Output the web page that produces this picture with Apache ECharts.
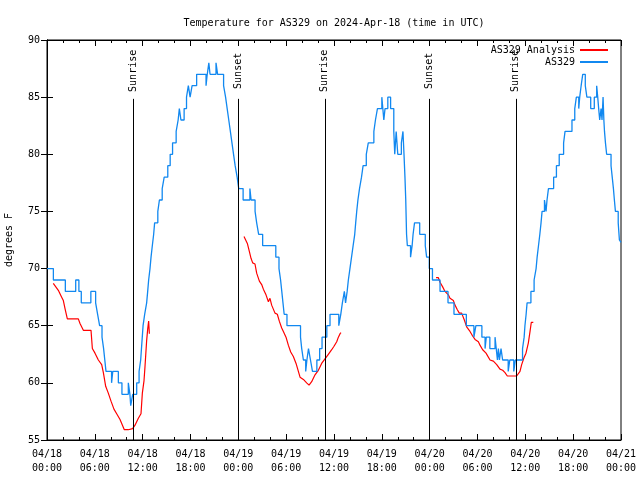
<!DOCTYPE html>
<html><head><meta charset="utf-8">
<script src="https://cdn.jsdelivr.net/npm/echarts@6/dist/echarts.min.js"></script>
<style>html,body{margin:0;padding:0;background:#fff}#c{width:640px;height:480px}</style>
</head><body><div id="c"></div>
<script>
// hours since 2024-04-18 00:00 UTC
const xTickLabels = ['04/18\n00:00','04/18\n06:00','04/18\n12:00','04/18\n18:00','04/19\n00:00','04/19\n06:00','04/19\n12:00','04/19\n18:00','04/20\n00:00','04/20\n06:00','04/20\n12:00','04/20\n18:00','04/21\n00:00'];
const eventHours = [10.8, 23.96, 34.85, 47.92, 58.8];
const eventNames = ['Sunrise','Sunset','Sunrise','Sunset','Sunrise'];

// AS329 observations: [hour, degF] (value holds until next point)
const stationTemp = [
[0,70],[0.8,69],[2.3,68],[3.6,69],[4.0,68],[4.3,67],[5.5,68],[6.1,67],[6.35,66],[6.6,65],[6.9,64],[7.1,63],[7.25,62],[7.4,61],[8.1,60],[8.25,61],[8.95,60],[9.4,59],[10.2,60],[10.4,59],[10.5,58],[10.75,59],[11.25,60],[11.55,61],[11.75,62],[11.85,63],[11.95,64],[12.05,65],[12.25,66],[12.5,67],[12.63,68],[12.75,69],[12.92,70],[13.05,71],[13.21,72],[13.38,73],[13.5,74],[13.9,75],[14.1,76],[14.45,77],[14.7,78],[15.15,79],[15.45,80],[15.75,81],[16.2,82],[16.45,83],[16.6,84],[16.8,83],[17.2,84],[17.5,85],[17.73,86],[17.95,85],[18.2,86],[18.77,87],[19.95,86],[20.1,87],[20.3,88],[20.45,87],[21.2,88],[21.4,87],[22.15,86],[22.4,85],[22.6,84],[22.8,83],[23.0,82],[23.2,81],[23.4,80],[23.6,79],[23.85,78],[24.05,77],[24.6,76],[25.45,77],[25.6,76],[26.1,75],[26.3,74],[26.55,73],[27.05,72],[28.7,71],[29.1,70],[29.3,69],[29.45,68],[29.6,67],[29.75,66],[30.1,65],[31.8,64],[31.95,63],[32.16,62],[32.45,61],[32.6,62],[32.8,63],[33.05,62],[33.3,61],[33.85,62],[34.2,63],[34.5,64],[35.1,65],[35.5,66],[36.6,65],[36.85,66],[37.05,67],[37.3,68],[37.45,67],[37.65,68],[37.8,69],[38.0,70],[38.2,71],[38.4,72],[38.6,73],[38.72,74],[38.85,75],[39.0,76],[39.2,77],[39.45,78],[39.65,79],[40.05,80],[40.3,81],[41.0,82],[41.2,83],[41.45,84],[42.0,85],[42.25,83],[42.4,84],[42.75,85],[43.1,84],[43.5,82],[43.62,80],[43.8,82],[44.0,80],[44.45,81],[44.65,82],[44.78,80],[44.9,78],[45.0,76],[45.1,73],[45.2,72],[45.6,71],[45.8,72],[45.92,73],[46.1,74],[46.75,73],[47.45,72],[47.62,71],[47.95,70],[48.35,69],[49.3,68],[50.3,67],[51.05,66],[52.6,65],[53.55,64],[53.8,65],[54.55,64],[54.95,63],[55.1,64],[55.55,63],[56.2,64],[56.35,63],[56.5,62],[56.62,63],[56.75,62],[56.95,63],[57.15,62],[57.85,61],[58.05,62],[58.55,61],[58.75,62],[59.65,63],[59.85,64],[59.95,65],[60.1,66],[60.22,67],[60.7,68],[61.1,69],[61.35,70],[61.48,71],[61.65,72],[61.82,73],[61.97,74],[62.1,75],[62.4,76],[62.6,75],[62.72,76],[62.9,77],[63.55,78],[63.9,79],[64.25,80],[64.8,81],[64.98,82],[65.85,83],[66.2,84],[66.4,85],[66.7,84],[66.82,85],[67.0,86],[67.2,87],[67.52,86],[67.72,85],[68.2,84],[68.65,85],[68.95,86],[69.08,85],[69.2,84],[69.33,83],[69.5,84],[69.62,83],[69.75,85],[69.85,83],[69.93,82],[70.05,81],[70.2,80],[70.75,79],[70.9,78],[71.05,77],[71.17,76],[71.3,75],[71.65,74],[71.8,72.5],[72,72.3]
];

// AS329 Analysis: [hour, degF]
const analysisDay1 = [
[0.79,68.7],[1.42,68.1],[1.84,67.5],[2.05,67.2],[2.26,66.5],[2.55,65.6],[3.93,65.6],[4.14,65.2],[4.56,64.6],[5.52,64.6],[5.69,63.0],[6.02,62.6],[6.44,62.0],[6.86,61.6],[7.07,60.9],[7.36,59.7],[7.69,59.1],[8.03,58.4],[8.4,57.7],[8.74,57.3],[9.16,56.8],[9.7,55.9],[10.2,55.9],[10.74,56.0],[11.04,56.3],[11.46,56.9],[11.79,57.3],[11.96,59.1],[12.17,60.2],[12.29,61.4],[12.5,63.7],[12.63,64.7],[12.75,65.4],[12.84,64.3]
];
const analysisDay2 = [
[24.71,72.8],[24.96,72.8],[25.13,72.2],[25.38,71.5],[25.59,70.9],[25.8,70.5],[26.09,70.4],[26.3,69.6],[26.64,68.9],[26.93,68.6],[27.14,68.2],[27.47,67.7],[27.77,67.1],[27.97,67.4],[28.18,66.8],[28.6,66.1],[28.89,66.0],[29.14,65.4],[29.44,64.8],[29.65,64.5],[29.98,64.0],[30.27,63.3],[30.57,62.7],[30.9,62.3],[31.24,61.7],[31.53,61.0],[31.74,60.5],[32.16,60.3],[32.57,60.0],[32.87,59.8],[33.2,60.1],[33.62,60.7],[34.04,61.1],[34.45,61.7],[34.87,62.1],[35.29,62.5],[35.71,62.9],[36.0,63.2],[36.34,63.6],[36.55,64.0],[36.76,64.3],[36.88,64.4]
];
const analysisDay3 = [
[48.8,69.2],[49.09,69.2],[49.3,68.8],[49.63,68.4],[49.92,68.0],[50.34,67.7],[50.55,67.4],[50.97,67.2],[51.18,66.8],[51.47,66.4],[51.72,66.1],[52.01,66.1],[52.35,65.5],[52.64,64.9],[53.06,64.5],[53.39,64.1],[53.69,63.8],[54.11,63.6],[54.31,63.3],[54.65,62.9],[55.07,62.6],[55.57,62.0],[55.99,61.9],[56.41,61.6],[56.82,61.2],[57.16,61.1],[57.45,60.9],[57.74,60.6],[58.91,60.6],[59.12,60.7],[59.33,61.0],[59.54,61.6],[59.83,62.2],[60.08,62.6],[60.38,63.5],[60.59,64.5],[60.75,65.3],[61.0,65.3]
];

const FONT = 'DejaVu Sans Mono';
const BLUE = '#1188f0', RED = '#ff0000';
const chart = echarts.init(document.getElementById('c'), null, {renderer:'canvas'});

const xBase = {
  type:'value', min:0, max:72, interval:6,
  axisLine:{show:true, lineStyle:{color:'#000', width:1}},
  axisTick:{show:true, inside:true, length:6, lineStyle:{color:'#000'}},
  minorTick:{show:true, splitNumber:3, length:3, lineStyle:{color:'#000'}},
  splitLine:{show:false}, minorSplitLine:{show:false}
};
const yBase = {
  type:'value', min:55, max:90, interval:5,
  axisLine:{show:true, lineStyle:{color:'#000', width:1}},
  axisTick:{show:true, inside:true, length:6, lineStyle:{color:'#000'}},
  splitLine:{show:false}
};
const analysisSeries = [analysisDay1, analysisDay2, analysisDay3].map(d => ({
  name:'AS329 Analysis', type:'line', data:d, symbol:'none', animation:false,
  lineStyle:{color:RED, width:1.2}, itemStyle:{color:RED}, z:2
}));

chart.setOption({
  animation:false,
  backgroundColor:'#fff',
  textStyle:{fontFamily:FONT},
  title:{text:'Temperature for AS329 on 2024-Apr-18 (time in UTC)', left:329, top:13, textAlign:'center',
    textStyle:{fontFamily:FONT, fontSize:10, fontWeight:'normal', color:'#000'}},
  grid:{left:47, right:19, top:40, bottom:40, outerBoundsMode:'none', containLabel:false,
    show:true, borderColor:'#000', borderWidth:1, backgroundColor:'transparent'},
  legend:{data:['AS329 Analysis','AS329'], orient:'vertical', align:'right', right:31, top:45, padding:0,
    itemWidth:28, itemHeight:10, itemGap:2,
    itemStyle:{opacity:0},
    textStyle:{fontFamily:FONT, fontSize:10, color:'#000'}},
  xAxis:[
    Object.assign({}, xBase, {position:'bottom',
      axisLabel:{fontFamily:FONT, fontSize:10, color:'#000', margin:7, lineHeight:14,
        formatter:v => xTickLabels[Math.round(v/6)]}}),
    Object.assign({}, xBase, {position:'top', axisLabel:{show:false}})
  ],
  yAxis:[
    Object.assign({}, yBase, {position:'left', name:'degrees F', nameLocation:'middle', nameGap:33,
      nameTextStyle:{fontFamily:FONT, fontSize:10, color:'#000'},
      axisLabel:{fontFamily:FONT, fontSize:10, color:'#000', margin:7}}),
    Object.assign({}, yBase, {position:'right', axisLabel:{show:false}})
  ],
  series:[
    ...analysisSeries,
    {name:'AS329', type:'line', data:stationTemp, step:'end', symbol:'none',
      lineStyle:{color:BLUE, width:1.3}, itemStyle:{color:BLUE}, z:3},
    {name:'events', type:'line', data:[], silent:true, z:4,
      markLine:{silent:true, symbol:['none','none'], animation:false,
        lineStyle:{color:'#000', width:1, type:'solid'}, label:{show:false},
        data: eventHours.map(h => [{coord:[h,55]},{coord:[h,84.85]}])}},
    {name:'eventLabels', type:'scatter', symbolSize:2, itemStyle:{color:'rgba(0,0,0,0)'}, silent:true, z:5,
      data: eventHours.map((h,i) => ({value:[h,87.3], name:eventNames[i]})),
      label:{show:true, position:'inside', rotate:90, formatter:'{b}',
        fontFamily:FONT, fontSize:10, color:'#000', opacity:1}}
  ]
});
</script></body></html>
